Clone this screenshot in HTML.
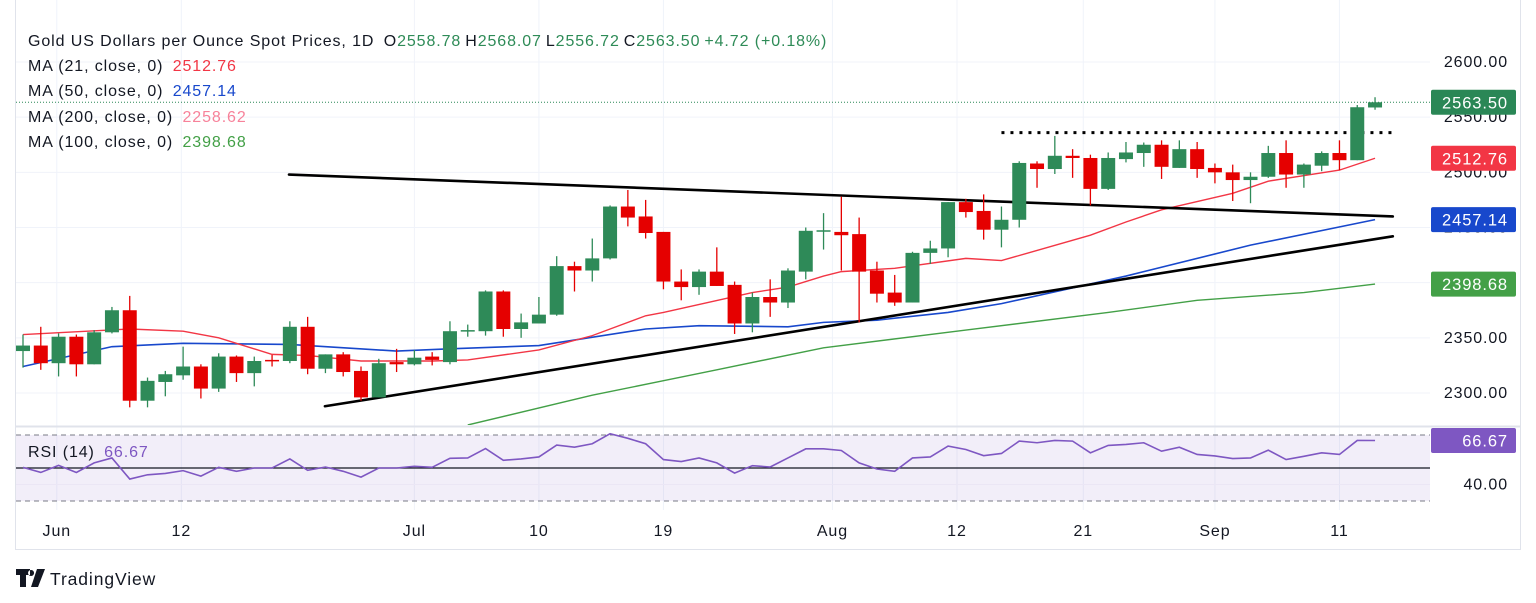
<!DOCTYPE html>
<html><head><meta charset="utf-8">
<style>
html,body{margin:0;padding:0;background:#fff;}
svg{display:block;font-family:"Liberation Sans","DejaVu Sans",sans-serif;}
text{letter-spacing:0.9px;}
</style></head>
<body>
<svg id="chart" width="1536" height="603" viewBox="0 0 1536 603" xmlns="http://www.w3.org/2000/svg">
  <rect x="0" y="0" width="1536" height="603" fill="#fff"/>
  <g id="grid"></g>
  <g id="rsiPane"></g>
  <g id="plot"></g>
  <g id="axis"></g>
  <g id="time"></g>
  <line x1="15.5" y1="0" x2="15.5" y2="549" stroke="#e0e3eb"/>
  <line x1="15" y1="549.5" x2="1521" y2="549.5" stroke="#e0e3eb"/>
  <line x1="1520.5" y1="0" x2="1520.5" y2="549" stroke="#e0e3eb"/>
  <line x1="15" y1="426.5" x2="1521" y2="426.5" stroke="#e0e3eb" stroke-width="2"/>
  <g font-size="16" fill="#131722">
    <text x="28" y="46">Gold US Dollars per Ounce Spot Prices, 1D <tspan dx="4">O</tspan><tspan fill="#2e8b57">2558.78</tspan><tspan dx="4">H</tspan><tspan fill="#2e8b57">2568.07</tspan><tspan dx="4">L</tspan><tspan fill="#2e8b57">2556.72</tspan><tspan dx="4">C</tspan><tspan fill="#2e8b57">2563.50</tspan><tspan dx="4" fill="#2e8b57">+4.72 (+0.18%)</tspan></text>
    <text x="28" y="71">MA (21, close, 0) <tspan dx="4" fill="#f23645">2512.76</tspan></text>
    <text x="28" y="96">MA (50, close, 0) <tspan dx="4" fill="#1848cc">2457.14</tspan></text>
    <text x="28" y="122">MA (200, close, 0) <tspan dx="4" fill="#f7829a">2258.62</tspan></text>
    <text x="28" y="147">MA (100, close, 0) <tspan dx="4" fill="#43a047">2398.68</tspan></text>
  </g>
  <text x="28" y="457" font-size="16" fill="#131722">RSI (14) <tspan dx="4" fill="#7e57c2">66.67</tspan></text>
  <g>
    <path d="M16 569h14v6h-4v12h-6v-12h-4z M31 570a3 3 0 1 0 0.1 0z M37 569h8l-7 18h-7z" fill="#131722"/>
    <text x="50" y="585" font-size="17.5" fill="#131722">TradingView</text>
  </g>
<script>
// ===== data =====
const opens  = [2338,2343,2327,2351,2326,2355,2375,2293,2310,2316,2324,2304,2333,2318,2330,2329,2360,2322,2335,2320,2296,2328,2326,2333,2328,2356,2356,2392,2358,2363,2371,2415,2411,2422,2469,2460,2446,2401,2396,2410,2398,2363,2387,2382,2410,2447,2446,2444,2411,2391,2382,2427,2431,2473,2465,2448,2457,2508,2503,2515,2513,2485,2512,2517.5,2525,2504,2521,2504,2500,2493,2496,2517.5,2498,2506,2517.5,2511,2558.78];
const highs  = [2353,2360,2354,2353,2357,2378,2388,2314,2320,2342,2326,2336,2334,2333,2334.5,2365,2369,2335,2337,2324,2331,2340,2339,2337,2365,2362,2393,2393,2372,2387,2424,2419,2440,2470,2484,2475,2446,2412,2412,2432,2401,2391,2403,2413,2450,2463,2478,2459,2419,2407,2428,2438,2473,2476,2480,2469,2510,2510,2533,2521,2516,2518,2527.5,2527,2529,2529,2527.5,2508,2507,2500,2524,2529,2508,2519,2529,2561,2568.07];
const lows   = [2323,2321,2315,2315,2326,2354,2287,2287,2297,2312,2295,2301,2310,2306,2324,2327,2317,2318,2315,2293,2296,2319,2325,2325,2326,2351,2352,2351,2350,2363,2370,2392,2401,2421,2451,2440,2394,2384,2389,2397,2353.5,2355,2369,2377,2403,2430,2411,2364,2382,2379,2382,2417,2423,2459,2439,2432,2450,2486,2498.5,2495,2470,2484,2509,2505,2494,2504,2495,2490,2474,2472,2495,2486,2486,2501,2502,2511,2556.72];
const closes = [2343,2327,2351,2326,2355,2375,2293,2311,2317,2324,2304,2333,2318,2329,2329,2360,2322,2335,2319,2296,2327,2326,2332,2330,2356,2357,2392,2358,2364,2371,2415,2411,2422,2469,2459,2445,2401,2396,2410,2397,2363,2387,2382,2411,2447,2447.5,2443,2410,2390,2382,2427,2431,2473,2464,2448,2457,2508.5,2503,2515,2513,2485,2513,2518,2525,2505,2521,2503,2500,2493,2496,2517.5,2498,2507,2517.5,2511,2559,2563.5];
const ma21Idx = [0,6,9,11,14,16,19,23,25,29,32,35,36,41,43,45,46,49,53,55,60,62,64,68,70,74,76];
const ma21Val = [2353,2358,2356,2350,2335,2334,2329,2329,2330,2339,2352,2370,2373,2391,2396,2406,2410,2413,2422,2420,2443,2455,2466,2481,2492,2502,2512.76];
const ma50Idx = [0,5,9,15,21,24,29,35,38,43,45,48,52,55,62,69,76];
const ma50Val = [2324,2342,2345,2344,2338,2340,2343,2358,2361,2360,2364,2366,2373,2381,2406,2434,2457.14];
const ma100Idx = [25,32,39,45,53,61,66,72,76];
const ma100Val = [2271,2298,2321,2341,2357,2373,2384,2391,2398.68];
const rsiVals = [50.4,47.3,51.6,47.3,53.1,56.1,43.3,45.9,46.7,48.4,45.1,50.4,48,50,50,55.5,48.6,50.6,48,44.5,50,50,51,50.4,55.9,56.1,61.8,54.7,55.5,56.7,63.9,62.6,64.7,70.8,68,64.7,55.1,53.9,56.1,53.1,46.9,51.4,50.6,56.1,61.6,61.6,60.6,53.1,49.4,48,56.1,56.7,63.3,61.2,57.5,58.8,66.3,65.3,66.7,66.3,59.2,63.7,64.3,65.3,60.2,62.6,58.2,57.3,55.7,56.1,60.8,55.1,57.1,59.2,58.2,66.7,66.67];
const priceTicks = [2600,2550,2500,2450,2400,2350,2300];
const rsiTicks = [40];
const timeLabels = ["Jun","12","Jul","10","19","Aug","12","21","Sep","11"];
const timeLabelIdx = [1.9,8.9,22,29,36,45.5,52.5,59.6,67,74];
const upperTrend = [14.95,2498,77,2460];
const lowerTrend = [16.97,2288,77,2442];
const resistance = [55,2536,77.2,2536];
const lastPrice = 2563.5;
const badges = [[2563.50,"#2a8756"],[2512.76,"#f23645"],[2457.14,"#1848cc"],[2398.68,"#43a047"]];

// ===== scales =====
const X = i => 23 + i*17.79;
const Y = p => 62 + (2600-p)*1.1033;
const YR = r => 468 - (r-50)*1.65;
const NS = "http://www.w3.org/2000/svg";
function mk(tag, attrs, parent){ const e=document.createElementNS(NS,tag); for(const k in attrs) e.setAttribute(k,attrs[k]); parent.appendChild(e); return e; }
const grid=document.getElementById('grid'), plot=document.getElementById('plot'), axis=document.getElementById('axis'), time=document.getElementById('time'), rsiPane=document.getElementById('rsiPane');

const defs = mk('defs',{},document.getElementById('chart'));
const cp = mk('clipPath',{id:'mainClip'},defs);
mk('rect',{x:16,y:0,width:1414,height:425},cp);
plot.setAttribute('clip-path','url(#mainClip)');

priceTicks.forEach(p=>{
  const l=mk('line',{x1:16,x2:1430,y1:Y(p),y2:Y(p),stroke:'#f0f3fa'},grid);
  
  
});
timeLabelIdx.forEach(i=>{
  const l=mk('line',{x1:X(i),x2:X(i),y1:0,y2:510,stroke:'#f0f3fa'},grid);
  
  
});

const band=mk('rect',{x:16,y:YR(70),width:1414,height:YR(30)-YR(70),fill:'#7e57c2','fill-opacity':0.1},rsiPane);


[70,30].forEach(v=>{
  const l=mk('line',{x1:16,x2:1430,y1:YR(v),y2:YR(v),stroke:'#787b86','stroke-dasharray':'5,4'},rsiPane);
  
  
});
const mid=mk('line',{x1:16,x2:1430,y1:YR(50),y2:YR(50),stroke:'#131722','stroke-width':1.3},rsiPane);


mk('line',{x1:16,x2:1430,y1:YR(40),y2:YR(40),stroke:'#ebe6f5'},rsiPane);
const rsiLine=mk('polyline',{points:rsiVals.map((r,i)=>X(i)+','+YR(r)).join(' '),fill:'none',stroke:'#7e57c2','stroke-width':1.6},rsiPane);



function ma(idx,val,color,name,w){
  const pl=mk('polyline',{points:idx.map((i,k)=>X(i)+','+Y(val[k])).join(' '),fill:'none',stroke:color,'stroke-width':w},plot);
  
  
}
ma(ma100Idx,ma100Val,'#43a047','ma100-line',1.4);
ma(ma50Idx,ma50Val,'#1848cc','ma50-line',1.6);
ma(ma21Idx,ma21Val,'#f23645','ma21-line',1.4);

function tl(d,name,extra){
  const l=mk('line',Object.assign({x1:X(d[0]),y1:Y(d[1]),x2:X(d[2]),y2:Y(d[3]),stroke:'#000','stroke-width':2.6,'stroke-linecap':'round'},extra||{}),plot);
  
  
}
tl(upperTrend,'upper-trendline');
tl(lowerTrend,'lower-trendline');
tl(resistance,'resistance-line',{'stroke-width':3,'stroke-dasharray':'3,6','stroke-linecap':'butt'});

const pl=mk('line',{x1:16,x2:1430,y1:Y(lastPrice),y2:Y(lastPrice),stroke:'#2a8756','stroke-dasharray':'1,2'},plot);



opens.forEach((o,i)=>{
  const c=closes[i], up=c>=o, col=up?'#2e8a58':'#e50000';
  const g=mk('g',{},plot);
  
  
  mk('line',{x1:X(i),x2:X(i),y1:Y(highs[i]),y2:Y(lows[i]),stroke:col,'stroke-width':1.3},g);
  const top=Y(Math.max(o,c)), h=Math.max(1.5,Math.abs(Y(o)-Y(c)));
  mk('rect',{x:X(i)-7,y:top,width:14,height:h,fill:col},g);
});

priceTicks.forEach(p=>{
  const t=mk('text',{x:1508,y:Y(p)+5,'text-anchor':'end','font-size':16,fill:'#131722'},axis);
  t.textContent=p.toFixed(2);
  
  
});
rsiTicks.forEach(r=>{
  const t=mk('text',{x:1508,y:YR(r)+5,'text-anchor':'end','font-size':16,fill:'#131722'},axis);
  t.textContent=r.toFixed(2);
  
  
});
badges.forEach(b=>{
  const g=mk('g',{},axis);
  
  
  mk('rect',{x:1431,y:Y(b[0])-12.5,width:85,height:25,rx:2,fill:b[1]},g);
  const t=mk('text',{x:1508,y:Y(b[0])+6,'text-anchor':'end','font-size':16.5,fill:'#fff'},g);
  t.textContent=b[0].toFixed(2);
});
{
  const g=mk('g',{},axis);
  
  
  const rv=rsiVals[rsiVals.length-1];
  mk('rect',{x:1431,y:YR(rv)-12.5,width:85,height:25,rx:2,fill:'#7e57c2'},g);
  const t=mk('text',{x:1508,y:YR(rv)+6,'text-anchor':'end','font-size':16.5,fill:'#fff'},g);
  t.textContent=rv.toFixed(2);
}

timeLabels.forEach((s,k)=>{
  const t=mk('text',{x:X(timeLabelIdx[k]),y:536,'text-anchor':'middle','font-size':16,fill:'#131722'},time);
  t.textContent=s;
  
  
});
</script>
</svg>
</body></html>
